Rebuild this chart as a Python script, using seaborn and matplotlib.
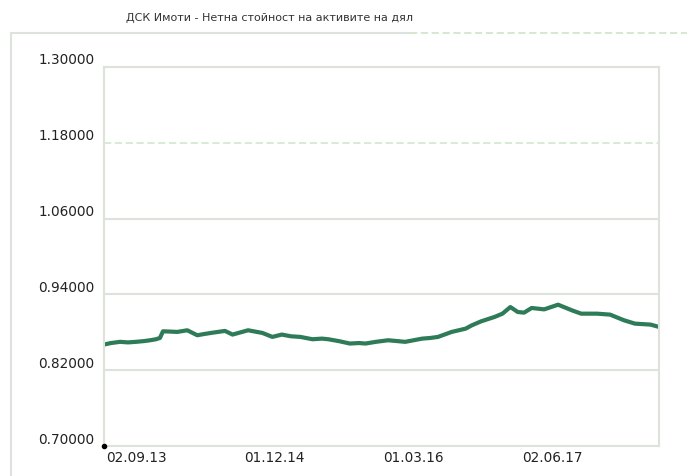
import numpy as np
import pandas as pd
import matplotlib
matplotlib.use("Agg")
import matplotlib.pyplot as plt
import matplotlib.dates as mdates
import matplotlib.transforms as mtrans
from matplotlib.lines import Line2D
import seaborn as sns

sns.set_theme(style="white")
plt.rcParams['font.family'] = ['DejaVu Sans']

title = "ДСК Имоти - Нетна стойност на активите на дял"

dates = [
    "2013-09-02", "2013-09-25", "2013-10-25", "2013-11-20", "2013-12-16",
    "2014-01-10", "2014-02-01", "2014-02-20", "2014-03-05",
    "2014-03-15", "2014-04-05", "2014-05-01", "2014-06-03", "2014-07-06", "2014-07-25",
    "2014-08-20", "2014-10-05", "2014-10-30", "2014-12-20", "2015-02-05", "2015-03-10",
    "2015-04-10", "2015-05-10", "2015-06-10", "2015-07-20", "2015-08-20", "2015-09-10",
    "2015-10-15", "2015-11-20", "2015-12-20", "2016-01-10", "2016-02-15", "2016-03-25",
    "2016-05-20", "2016-07-15", "2016-08-10",
    "2016-09-05", "2016-10-20", "2016-12-05", "2016-12-25", "2017-01-25",
    "2017-03-10", "2017-04-05", "2017-05-01", "2017-05-25", "2017-06-15",
    "2017-07-10", "2017-08-20", "2017-10-05", "2017-11-20", "2017-12-20",
    "2018-02-10", "2018-03-25", "2018-05-10", "2018-06-15", "2018-08-05",
    "2018-09-02",
]
values = [
    0.8606, 0.8630, 0.8649, 0.8640, 0.8649,
    0.8660, 0.8674, 0.8690, 0.8710,
    0.8816, 0.8812, 0.8806, 0.8832, 0.8753, 0.8770,
    0.8790, 0.8822, 0.8764, 0.8832, 0.8790, 0.8727,
    0.8764, 0.8737, 0.8727, 0.8690, 0.8700, 0.8690,
    0.8660, 0.8622, 0.8630, 0.8622, 0.8650, 0.8674,
    0.8649, 0.8700, 0.8710,
    0.8727, 0.8806, 0.8858, 0.8910, 0.8974,
    0.9043, 0.9095, 0.9200, 0.9122, 0.9111,
    0.9185, 0.9163, 0.9237, 0.9147, 0.9095,
    0.9095, 0.9080, 0.8990, 0.8937, 0.8922,
    0.8885,
]
y_ticks = [0.70, 0.82, 0.94, 1.06, 1.18, 1.30]
x_tick_dates = ["2013-09-02", "2014-12-01", "2016-03-01", "2017-06-02"]
x_tick_labels = ["02.09.13", "01.12.14", "01.03.16", "02.06.17"]

df = pd.DataFrame({"date": pd.to_datetime(dates), "value": values})

W, H = 687, 477
fig = plt.figure(figsize=(W / 100, H / 100), dpi=100)
ax = fig.add_axes([104 / W, 1 - 447 / H, (659 - 104) / W, (447 - 68) / H])

sns.lineplot(data=df, x="date", y="value", ax=ax, color="#2e7b57", linewidth=3.0)

ax.set_xlim(pd.Timestamp("2013-09-02"), pd.Timestamp("2018-09-02"))
ax.set_ylim(0.70, 1.30)
ax.set_xlabel("")
ax.set_ylabel("")

grid_c = "#dde3db"
for v in y_ticks[1:-1]:
    if abs(v - 1.18) < 1e-6:
        ax.axhline(v, color="#d6e8d2", lw=1.3, ls=(0, (4, 2)), zorder=0)
    else:
        ax.axhline(v, color=grid_c, lw=1.5, zorder=0)

for s in ["left", "right", "top", "bottom"]:
    ax.spines[s].set_color(grid_c)
    ax.spines[s].set_linewidth(1.5)

ax.set_yticks(y_ticks)
ax.set_yticklabels([f"{v:.5f}" for v in y_ticks])
ax.set_xticks(pd.to_datetime(x_tick_dates))
ax.set_xticklabels(x_tick_labels)
ax.tick_params(axis="both", length=0, labelsize=9.8, labelcolor="#222222")
ax.tick_params(axis="y", pad=7)
ax.tick_params(axis="x", pad=3)

for lab in ax.get_yticklabels():
    lab.set_transform(lab.get_transform() + mtrans.ScaledTranslation(0, 9 / 100, fig.dpi_scale_trans))
for lab in ax.get_xticklabels():
    lab.set_horizontalalignment("left")
    lab.set_transform(lab.get_transform() + mtrans.ScaledTranslation(2 / 100, 0, fig.dpi_scale_trans))

ax.plot([pd.Timestamp("2013-09-02")], [0.70], "o", ms=3, color="black", clip_on=False, zorder=5)

# outer frame
fig.add_artist(Line2D([11 / W, 11 / W], [1 - 34 / H, 0], color="#dde3dc", lw=1.5))
fig.add_artist(Line2D([11 / W, 410 / W], [1 - 34 / H, 1 - 34 / H], color="#dde3dc", lw=1.5))
fig.add_artist(Line2D([410 / W, 1.0], [1 - 34 / H, 1 - 34 / H], color="#d2e7cc", lw=1.3, ls=(0, (4, 2))))

fig.text(270 / W, 1 - 18 / H, title, ha="center", va="center", fontsize=8, color="#333333")

fig.savefig("out.png", dpi=100)
